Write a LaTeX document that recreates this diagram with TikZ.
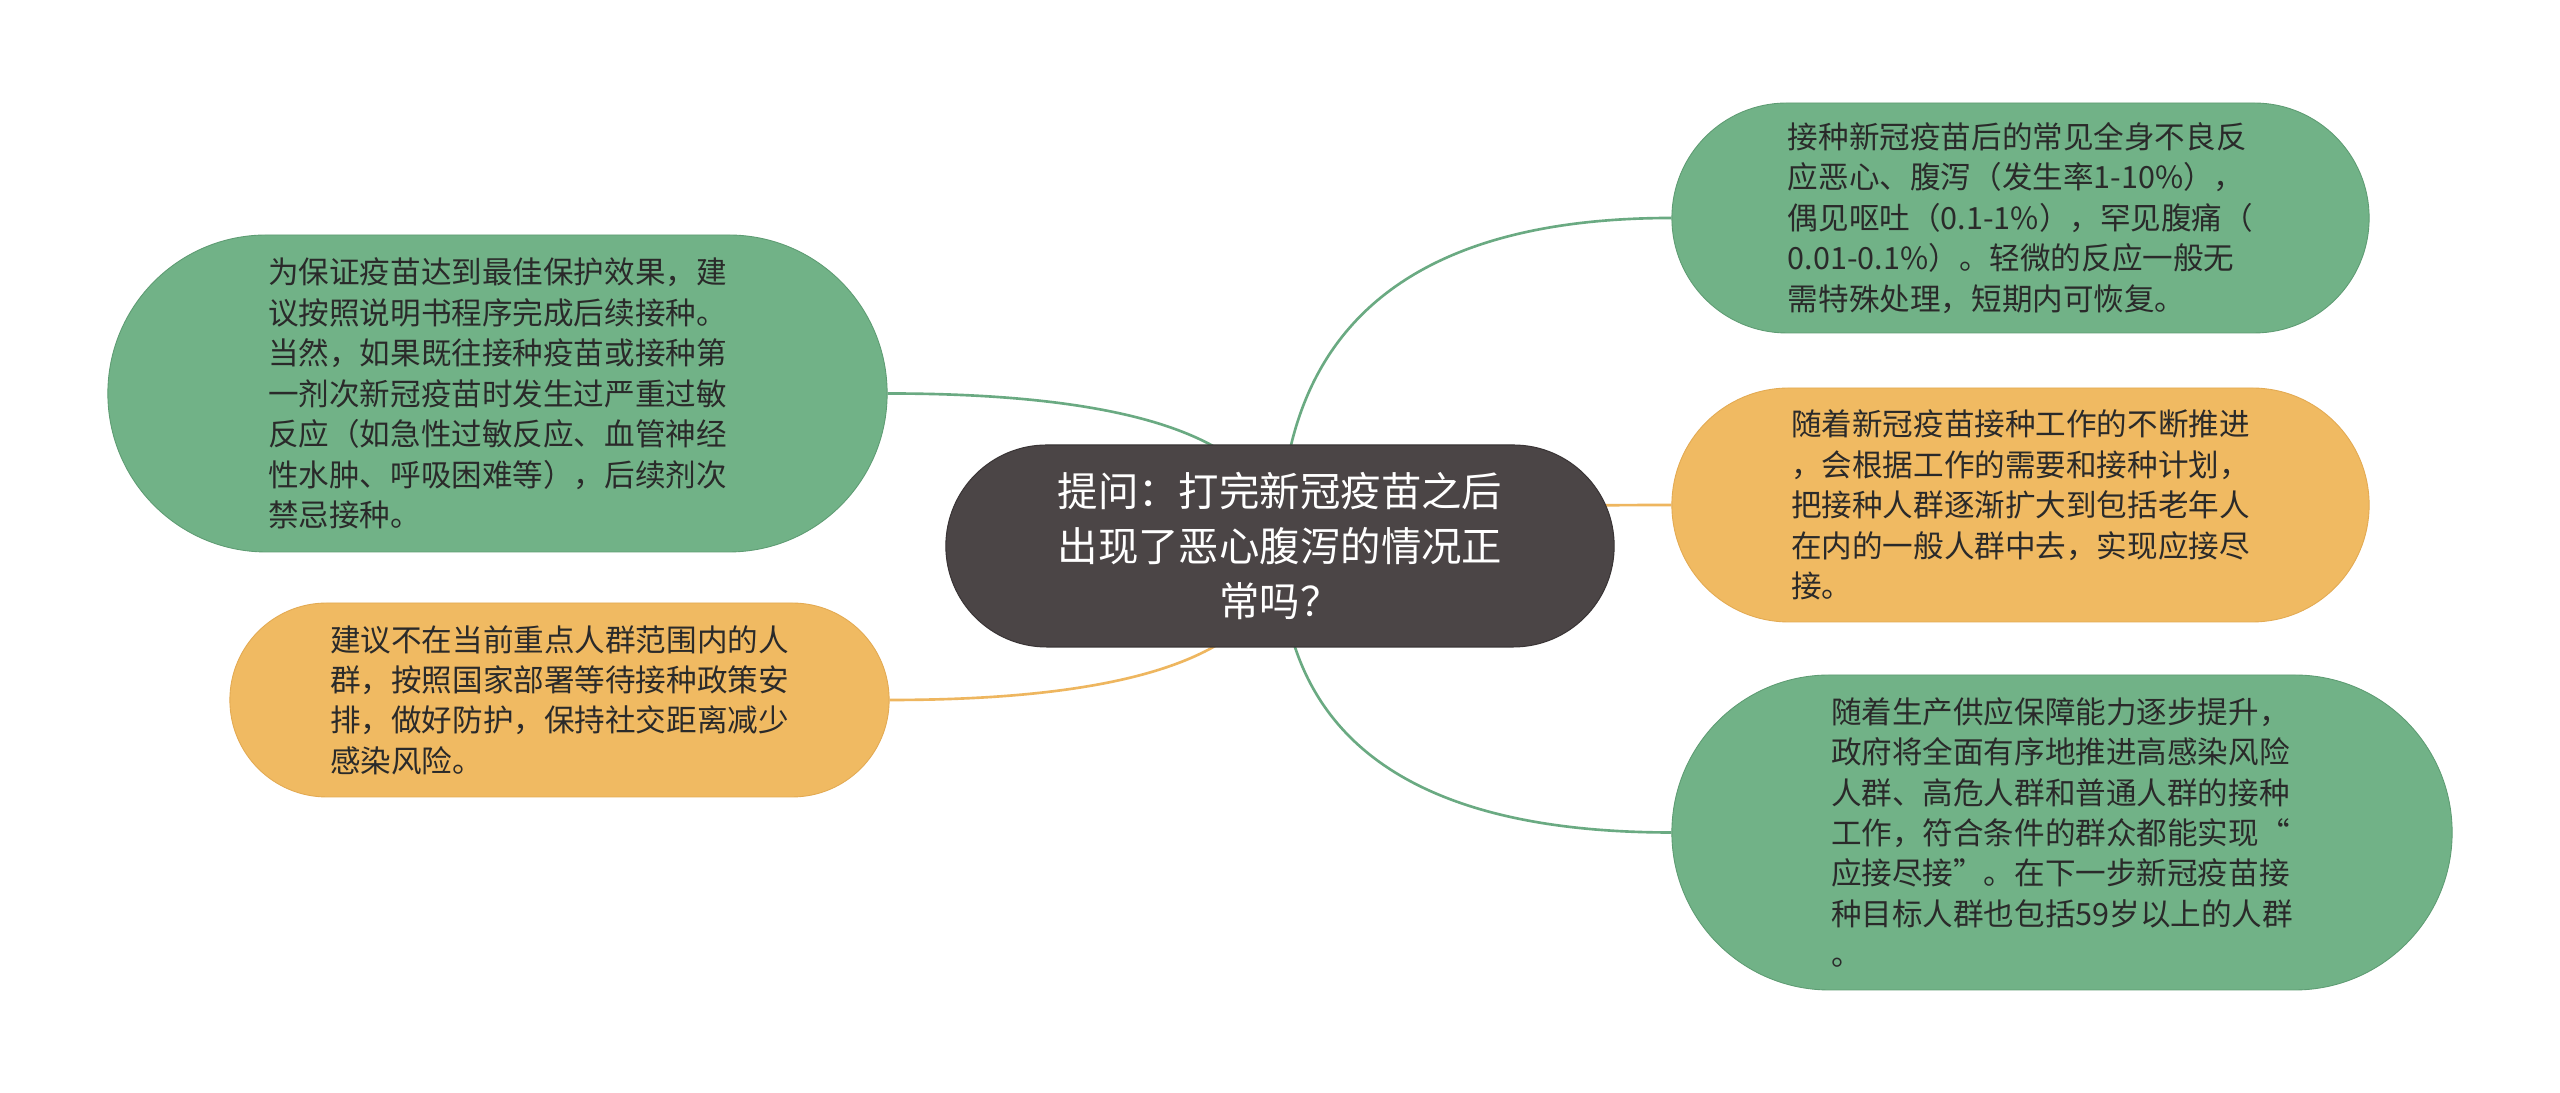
\documentclass[tikz,border=0pt]{standalone}
\usepackage{fontspec}
\setmainfont{Noto Sans CJK SC}
\usepackage{tikz}
\usetikzlibrary{shapes.misc}
\usetikzlibrary{calc}
\usetikzlibrary{backgrounds}
\usepackage{xcolor}
\definecolor{leafgreen}{HTML}{71B287}
\definecolor{leafgreenline}{HTML}{5E9C73}
\definecolor{leaforange}{HTML}{F0BA62}
\definecolor{leaforangeline}{HTML}{E3AA52}
\definecolor{topicfill}{HTML}{4B4546}
\definecolor{topicline}{HTML}{3A3536}
\definecolor{leaftext}{HTML}{2A2A2A}
\definecolor{linkgreen}{HTML}{6AAA82}
\definecolor{linkorange}{HTML}{EEB65F}

\begin{document}
\begin{tikzpicture}[
		% Style definitions
		topic/.style={rounded rectangle, draw=topicline, line width=0.6pt, fill=topicfill, text=white, align=center, font=\fontsize{23}{31.3}\selectfont, minimum width=13.6cm, minimum height=4.04cm},
		leaf/.style={rounded rectangle, line width=0.5pt, text=leaftext, align=left, font=\fontsize{17.4}{23}\selectfont},
		greenleaf/.style={leaf, draw=leafgreenline, fill=leafgreen},
		orangeleaf/.style={leaf, draw=leaforangeline, fill=leaforange},
		greenlink/.style={draw=linkgreen, line width=1.5pt},
		orangelink/.style={draw=linkorange, line width=1.5pt},
		]
		% === Canvas ===
		\useasboundingbox (0,0) rectangle (51.2,21.86);

		% === Central topic ===
		\node[topic] (root) at (25.6,10.94) {提问：打完新冠疫苗之后\\出现了恶心腹泻的情况正\\常吗？};

		% === Left branches ===
		\node[greenleaf, minimum width=15.82cm, minimum height=6.34cm] (safety) at (9.95,13.99) {为保证疫苗达到最佳保护效果，建\\议按照说明书程序完成后续接种。\\当然，如果既往接种疫苗或接种第\\一剂次新冠疫苗时发生过严重过敏\\反应（如急性过敏反应、血管神经\\性水肿、呼吸困难等），后续剂次\\禁忌接种。};
		\node[orangeleaf, minimum width=13.42cm, minimum height=3.88cm] (waiting) at (11.19,7.86) {建议不在当前重点人群范围内的人\\群，按照国家部署等待接种政策安\\排，做好防护，保持社交距离减少\\感染风险。};

		% === Right branches ===
		\node[greenleaf, minimum width=14.18cm, minimum height=4.6cm] (effects) at (40.41,17.5) {接种新冠疫苗后的常见全身不良反\\应恶心、腹泻（发生率1-10\%），\\偶见呕吐（0.1-1\%），罕见腹痛（\\0.01-0.1\%）。轻微的反应一般无\\需特殊处理，短期内可恢复。};
		\node[orangeleaf, minimum width=14.18cm, minimum height=4.68cm] (expand) at (40.41,11.76) {随着新冠疫苗接种工作的不断推进\\，会根据工作的需要和接种计划，\\把接种人群逐渐扩大到包括老年人\\在内的一般人群中去，实现应接尽\\接。};
		\node[greenleaf, minimum width=15.84cm, minimum height=6.3cm] (supply) at (41.24,5.21) {随着生产供应保障能力逐步提升，\\政府将全面有序地推进高感染风险\\人群、高危人群和普通人群的接种\\工作，符合条件的群众都能实现“\\应接尽接”。在下一步新冠疫苗接\\种目标人群也包括59岁以上的人群\\。};

		% === Connectors (behind the nodes) ===
		\begin{scope}[on background layer]
			\fill[white] (0,0) rectangle (51.2,21.86);
			\draw[greenlink] (root.center) .. controls ($(root.center)!2/3!(root.center |- safety.east)$) and ($(safety.east)!2/3!(root.center |- safety.east)$) .. (safety.east);
			\draw[orangelink] (root.center) .. controls ($(root.center)!2/3!(root.center |- waiting.east)$) and ($(waiting.east)!2/3!(root.center |- waiting.east)$) .. (waiting.east);
			\draw[greenlink] (root.center) .. controls ($(root.center)!2/3!(root.center |- effects.west)$) and ($(effects.west)!2/3!(root.center |- effects.west)$) .. (effects.west);
			\draw[orangelink] (root.center) .. controls ($(root.center)!2/3!(root.center |- expand.west)$) and ($(expand.west)!2/3!(root.center |- expand.west)$) .. (expand.west);
			\draw[greenlink] (root.center) .. controls ($(root.center)!2/3!(root.center |- supply.west)$) and ($(supply.west)!2/3!(root.center |- supply.west)$) .. (supply.west);
		\end{scope}

	\end{tikzpicture}
\end{document}
